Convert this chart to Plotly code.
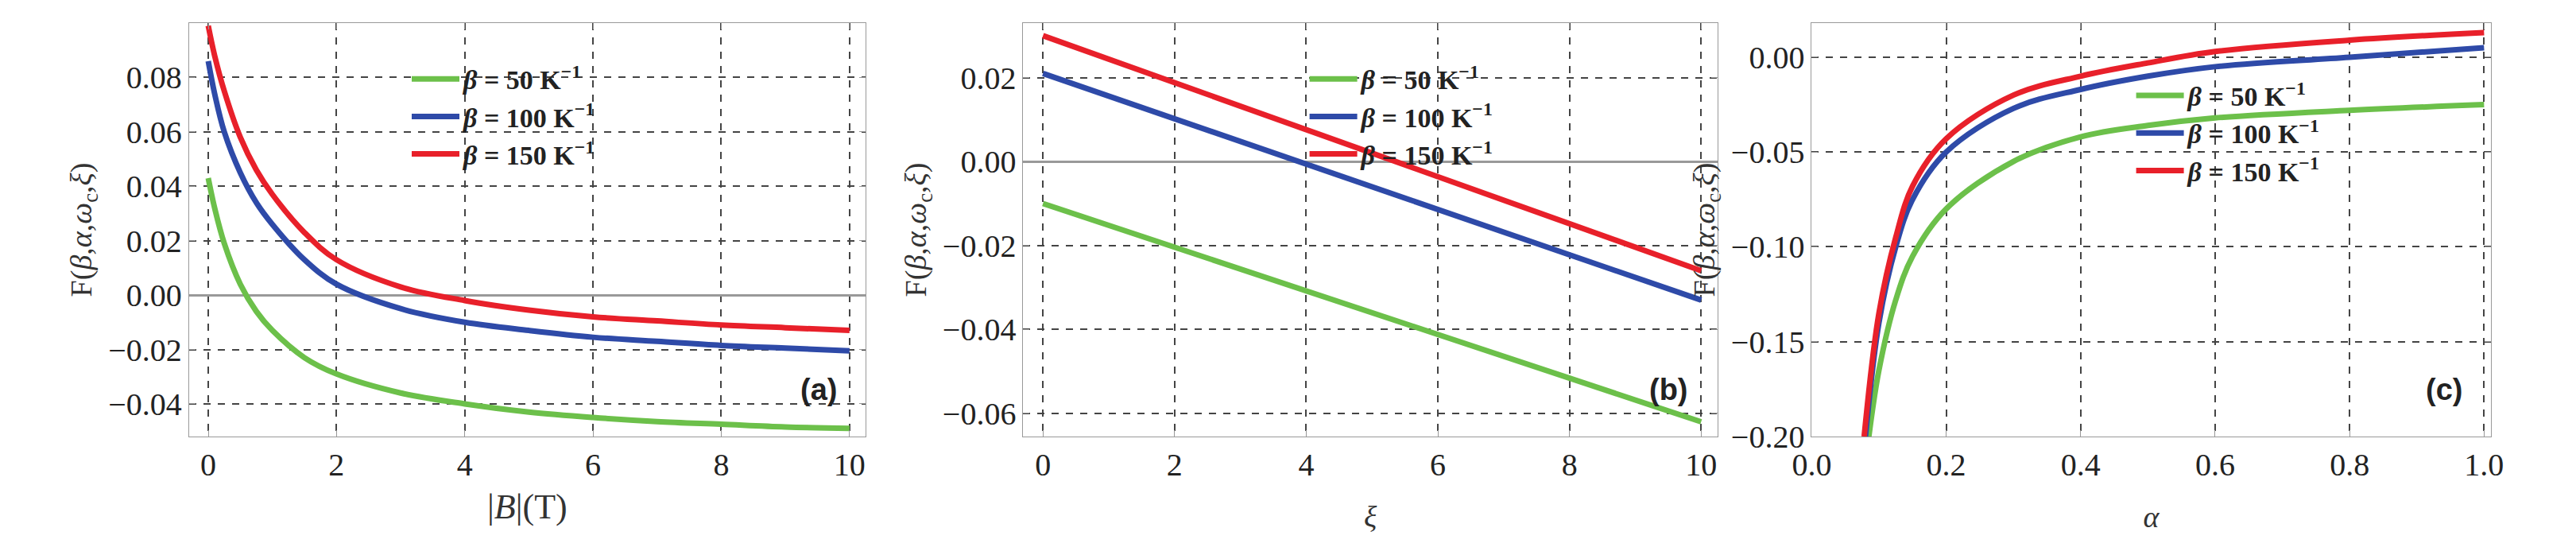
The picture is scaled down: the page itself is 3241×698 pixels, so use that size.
import plotly.graph_objects as go

# panel (a): F vs |B|
b_field = [0, 0.1, 0.25, 0.5, 0.75, 1, 1.5, 2, 3, 4, 5, 6, 7, 8, 9, 10]
a_green = [0.043, 0.032, 0.019, 0.004, -0.006, -0.013, -0.023, -0.029, -0.036, -0.040, -0.043, -0.045, -0.0465, -0.0475, -0.0485, -0.049]
a_blue = [0.086, 0.074, 0.060, 0.045, 0.034, 0.026, 0.013, 0.004, -0.005, -0.010, -0.013, -0.0155, -0.017, -0.0185, -0.0195, -0.0205]
a_red = [0.099, 0.088, 0.075, 0.058, 0.046, 0.037, 0.023, 0.013, 0.003, -0.002, -0.0055, -0.008, -0.0095, -0.011, -0.012, -0.013]

# panel (b): F vs xi (linear)
xi = [0, 10]
b_green = [-0.010, -0.062]
b_blue = [0.021, -0.033]
b_red = [0.030, -0.026]

# panel (c): F vs alpha
c_green_x = [0.085, 0.1, 0.125, 0.15, 0.2, 0.3, 0.4, 0.5, 0.6, 0.8, 1.0]
c_green = [-0.200, -0.165, -0.128, -0.105, -0.080, -0.055, -0.042, -0.036, -0.032, -0.028, -0.025]
c_blue_x = [0.08, 0.1, 0.125, 0.15, 0.2, 0.3, 0.4, 0.5, 0.6, 0.8, 1.0]
c_blue = [-0.200, -0.140, -0.100, -0.075, -0.050, -0.027, -0.017, -0.010, -0.005, 0.000, 0.005]
c_red_x = [0.078, 0.1, 0.125, 0.15, 0.2, 0.3, 0.4, 0.5, 0.6, 0.8, 1.0]
c_red = [-0.200, -0.135, -0.095, -0.068, -0.043, -0.020, -0.010, -0.003, 0.003, 0.009, 0.013]

labels = ["<b><i>β</i> = 50 K<sup>−1</sup></b>", "<b><i>β</i> = 100 K<sup>−1</sup></b>", "<b><i>β</i> = 150 K<sup>−1</sup></b>"]
colors = ["#6cc04a", "#2e4aa8", "#e8202a"]

fig = go.Figure()
panels = [
    ("x", "y", "legend", [(b_field, a_green), (b_field, a_blue), (b_field, a_red)]),
    ("x2", "y2", "legend2", [(xi, b_green), (xi, b_blue), (xi, b_red)]),
    ("x3", "y3", "legend3", [(c_green_x, c_green), (c_blue_x, c_blue), (c_red_x, c_red)]),
]
for xa, ya, lg, series in panels:
    for (xs, ys), name, col in zip(series, labels, colors):
        fig.add_trace(go.Scatter(x=xs, y=ys, mode="lines", name=name, xaxis=xa, yaxis=ya, legend=lg,
                                 line=dict(color=col, width=7, shape="spline", smoothing=1.0)))

font = "Liberation Serif"
ax = dict(showline=True, linecolor="#999", mirror="ticks", ticks="inside", ticklen=8, tickcolor="#999",
          showgrid=True, gridcolor="#444", griddash="dash", gridwidth=1.5,
          tickfont=dict(family=font, size=40, color="#222"), title_font=dict(family=font, size=38, color="#333"))
ytitle = "F(<i>β</i>,<i>α</i>,<i>ω</i><sub>c</sub>,<i>ξ</i>)"
lfont = dict(family=font, size=34, color="#222")

fig.update_layout(
    width=3241, height=698, paper_bgcolor="white", plot_bgcolor="white",
    margin=dict(l=0, r=0, t=21, b=157),
    xaxis=dict(ax, domain=[0.064, 0.330], range=[-0.3, 10.25], dtick=2,
               title=dict(text="|<i>B</i>|(T)", standoff=15, font=dict(family=font, size=44, color="#333")), zeroline=False),
    yaxis=dict(ax, range=[-0.052, 0.1], dtick=0.02, tickformat=".2f", title=dict(text=ytitle, standoff=8),
               zeroline=True, zerolinecolor="#999", zerolinewidth=3),
    xaxis2=dict(ax, domain=[0.392, 0.665], range=[-0.3, 10.25], dtick=2, title=dict(text="<i>ξ</i>", standoff=30), zeroline=False, anchor="y2"),
    yaxis2=dict(ax, range=[-0.0655, 0.033], dtick=0.02, tickformat=".2f", title=dict(text=ytitle, standoff=8), anchor="x2",
                zeroline=True, zerolinecolor="#999", zerolinewidth=3),
    xaxis3=dict(ax, domain=[0.702, 0.969], range=[0, 1.01], dtick=0.2, tickformat=".1f", title=dict(text="<i>α</i>", standoff=30), zeroline=False, anchor="y3"),
    yaxis3=dict(ax, range=[-0.2, 0.018], dtick=0.05, tickformat=".2f", title=dict(text=ytitle, standoff=8), anchor="x3", zeroline=False),
    legend=dict(x=0.150, y=0.92, bgcolor="rgba(0,0,0,0)", font=lfont, itemwidth=60, tracegroupgap=10),
    legend2=dict(x=0.503, y=0.92, bgcolor="rgba(0,0,0,0)", font=lfont, itemwidth=60),
    legend3=dict(x=0.828, y=0.88, bgcolor="rgba(0,0,0,0)", font=lfont, itemwidth=60),
    showlegend=True,
)
for xr, yr, txt in [("x domain", "y domain", "(a)"), ("x2 domain", "y2 domain", "(b)"), ("x3 domain", "y3 domain", "(c)")]:
    fig.add_annotation(xref=xr, yref=yr, x=0.96, y=0.07, text="<b>" + txt + "</b>", showarrow=False,
                       xanchor="right", yanchor="bottom", font=dict(family="Liberation Sans", size=38, color="#222"))

fig.write_html("out.html")
